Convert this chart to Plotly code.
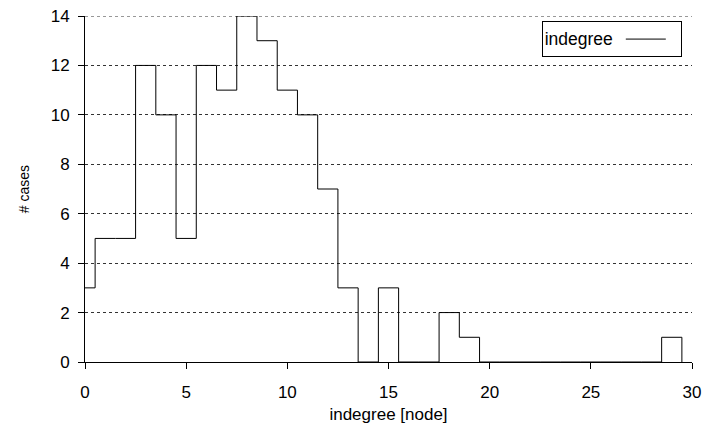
import plotly.graph_objects as go

# Data: histogram counts per indegree value
indegree_values = list(range(30))
case_counts = [3, 5, 5, 12, 10, 5, 12, 11, 14, 13,
               11, 10, 7, 3, 0, 3, 0, 0, 2, 1,
               0, 0, 0, 0, 0, 0, 0, 0, 0, 1]
x_tick_vals = [0, 5, 10, 15, 20, 25, 30]
y_tick_vals = [0, 2, 4, 6, 8, 10, 12, 14]

# Step outline: bins centred on integers, first bin clipped at 0
edges = [max(v - 0.5, 0) for v in indegree_values] + [indegree_values[-1] + 0.5]
heights = case_counts + [0]

font = "Liberation Sans, Arial, Helvetica, sans-serif"
grid_color = "#333333"

fig = go.Figure()
fig.add_trace(go.Scatter(
    x=edges, y=heights, mode="lines", line_shape="hv",
    line=dict(color="black", width=1), name=" ", showlegend=True,
))

# top gridline (plotly omits the gridline at the very end of the range)
fig.add_shape(type="line", xref="paper", x0=0, x1=1,
              yref="y", y0=y_tick_vals[-1], y1=y_tick_vals[-1],
              line=dict(color=grid_color, width=1, dash="3px,3px"), layer="below")

fig.update_layout(
    width=704, height=435,
    margin=dict(l=85, r=12, t=16, b=73, autoexpand=False),
    paper_bgcolor="white", plot_bgcolor="white",
    font=dict(family=font, size=17, color="black"),
    showlegend=True,
    legend=dict(
        x=0.983, y=0.985, xanchor="right", yanchor="top",
        bordercolor="black", borderwidth=1, bgcolor="white",
        title=dict(text="indegree", side="left", font=dict(size=17.5)),
        font=dict(size=16), itemwidth=40,
    ),
    xaxis=dict(
        range=[0, 30], tickvals=x_tick_vals,
        showgrid=False, zeroline=False, automargin=False,
        showline=True, linecolor="black", linewidth=1,
        ticks="outside", ticklen=6, tickcolor="black",
        ticklabelstandoff=9,
        tickfont=dict(size=17),
        title=dict(text="indegree [node]", font=dict(size=17), standoff=6),
    ),
    yaxis=dict(
        range=[0, 14], tickvals=y_tick_vals,
        showgrid=True, gridcolor=grid_color, griddash="3px,3px", gridwidth=1,
        zeroline=False, automargin=False,
        showline=True, linecolor="black", linewidth=1,
        ticks="outside", ticklen=6, tickcolor="black",
        ticklabelstandoff=5,
        tickfont=dict(size=17),
        title=dict(text="# cases", font=dict(size=14), standoff=17),
    ),
)

fig.write_html("out.html")
